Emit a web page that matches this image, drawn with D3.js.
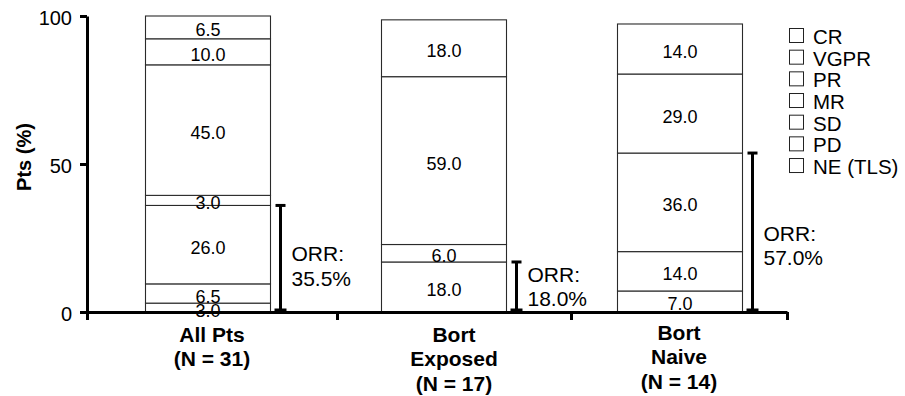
<!DOCTYPE html>
<html><head><meta charset="utf-8">
<script src="https://cdn.jsdelivr.net/npm/d3@7"></script>
<style>
body{margin:0;background:#fff}
svg{display:block}
text{font-family:"Liberation Sans",Arial,sans-serif;fill:#000}
</style>
</head><body>
<svg id="chart" width="905" height="396"></svg>
<script>
// ---------- data ----------
const groups = ["All Pts", "Bort Exposed", "Bort Naive"];
const groupLabels = [["All Pts", "(N = 31)"], ["Bort", "Exposed", "(N = 17)"], ["Bort", "Naive", "(N = 14)"]];
const responses = ["CR", "VGPR", "PR", "MR", "SD", "PD", "NE (TLS)"];
// segment heights (% of pts), bottom to top, in the order of `responses`
const allPts      = [3.0, 6.5, 26.5, 3.4, 44.1, 8.8, 7.7];
const bortExposed = [0, 0, 16.9, 5.9, 56.7, 19.2, 0];
const bortNaive   = [7.1, 13.3, 33.3, 0, 26.7, 16.9, 0];
// printed data labels
const allPtsLabels      = ["3.0", "6.5", "26.0", "3.0", "45.0", "10.0", "6.5"];
const bortExposedLabels = [null, null, "18.0", "6.0", "59.0", "18.0", null];
const bortNaiveLabels   = ["7.0", "14.0", "36.0", null, "29.0", "14.0", null];
// overall response rate annotations
const orrLabels = ["35.5%", "18.0%", "57.0%"];
const orrTextAt = [17.2, 10.2, 24.0];   // value (%) at the "ORR:" baseline
const orrKeys = ["CR", "VGPR", "PR"];
const yTicks = [0, 50, 100];

// ---------- build ----------
const values = [allPts, bortExposed, bortNaive];
const labels = [allPtsLabels, bortExposedLabels, bortNaiveLabels];
const table = groups.map((g, i) => {
  const row = {group: g};
  responses.forEach((r, j) => row[r] = values[i][j]);
  return row;
});
const stacked = d3.stack().keys(responses)(table);

const svg = d3.select("#chart");
const y = d3.scaleLinear().domain([0, 100]).range([312, 16]);
const xBar = d3.scalePoint().domain(groups).range([208, 680]);
const barW = 125;
const xCat = d3.scaleLinear().domain([0, 1, 2, 3]).range([87, 337, 571, 787]);

// bars
stacked.forEach((series, j) => {
  series.forEach((d, i) => {
    if (d[1] - d[0] <= 0) return;
    const cx = xBar(groups[i]);
    svg.append("rect")
      .attr("x", cx - barW / 2).attr("width", barW)
      .attr("y", y(d[1])).attr("height", y(d[0]) - y(d[1]))
      .attr("fill", "#fff").attr("stroke", "#2a2a2a").attr("stroke-width", 1.1);
  });
});
stacked.forEach((series, j) => {
  series.forEach((d, i) => {
    const lab = labels[i][j];
    if (!lab) return;
    const cx = xBar(groups[i]);
    svg.append("text")
      .attr("x", cx).attr("y", (y(d[0]) + y(d[1])) / 2 + 9)
      .attr("text-anchor", "middle").style("font-size", "18px")
      .text(lab);
  });
});

// ORR brackets
groups.forEach((g, i) => {
  const top = d3.sum(orrKeys, k => table[i][k]);
  const bx = xBar(g) + barW / 2 + 10;
  const br = svg.append("g").attr("stroke", "#000").attr("stroke-width", 3);
  br.append("line").attr("x1", bx).attr("x2", bx).attr("y1", y(top)).attr("y2", y(0));
  br.append("line").attr("x1", bx - 5).attr("x2", bx + 5).attr("y1", y(top)).attr("y2", y(top));
  br.append("line").attr("x1", bx - 6).attr("x2", bx + 6).attr("y1", y(0) - 2).attr("y2", y(0) - 2).attr("stroke-width", 3);
  const t = svg.append("text").attr("x", bx + 11).attr("y", y(orrTextAt[i])).style("font-size", "21px");
  t.append("tspan").attr("x", bx + 11).text("ORR:");
  t.append("tspan").attr("x", bx + 11).attr("dy", 24.5).text(orrLabels[i]);
});

// y axis
const yAxis = svg.append("g").attr("transform", "translate(87,0)")
  .call(d3.axisLeft(y).tickValues(yTicks).tickSize(7).tickSizeOuter(0).tickPadding(8));
yAxis.select(".domain").attr("stroke", "#000").attr("stroke-width", 3);
yAxis.selectAll(".tick line").attr("stroke", "#000").attr("stroke-width", 3);
yAxis.selectAll(".tick text").style("font-size", "20px").style("font-family", '"Liberation Sans",Arial,sans-serif').attr("dy", "0.4em").attr("fill", "#000");

// x axis
const xAxis = svg.append("g").attr("transform", "translate(0,312)")
  .call(d3.axisBottom(xCat).tickValues([0, 1, 2, 3]).tickSize(8).tickSizeOuter(0).tickFormat(""));
xAxis.select(".domain").attr("stroke", "#000").attr("stroke-width", 3);
xAxis.selectAll(".tick line").attr("stroke", "#000").attr("stroke-width", 3);

// category labels
groupLabels.forEach((lines, i) => {
  const cx = xCat(i + 0.5);
  const t = svg.append("text").attr("text-anchor", "middle")
    .attr("y", i === 2 ? 339.5 : 341.5)
    .style("font-size", "21px").style("font-weight", "bold");
  lines.forEach((l, k) => t.append("tspan").attr("x", cx).attr("dy", k === 0 ? 0 : 24.5).text(l));
});

// y title
svg.append("text")
  .attr("transform", "translate(31,157) rotate(-90)")
  .attr("text-anchor", "middle").style("font-size", "20px").style("font-weight", "bold")
  .text("Pts (%)");

// legend
const leg = svg.append("g");
responses.forEach((r, k) => {
  const yy = 28.5 + k * 21.67;
  leg.append("rect").attr("x", 789.5).attr("y", yy).attr("width", 14).attr("height", 14)
    .attr("fill", "#fff").attr("stroke", "#222").attr("stroke-width", 1);
  leg.append("text").attr("x", 813).attr("y", yy + 15.5).style("font-size", "20.5px").text(r);
});
</script>
</body></html>
